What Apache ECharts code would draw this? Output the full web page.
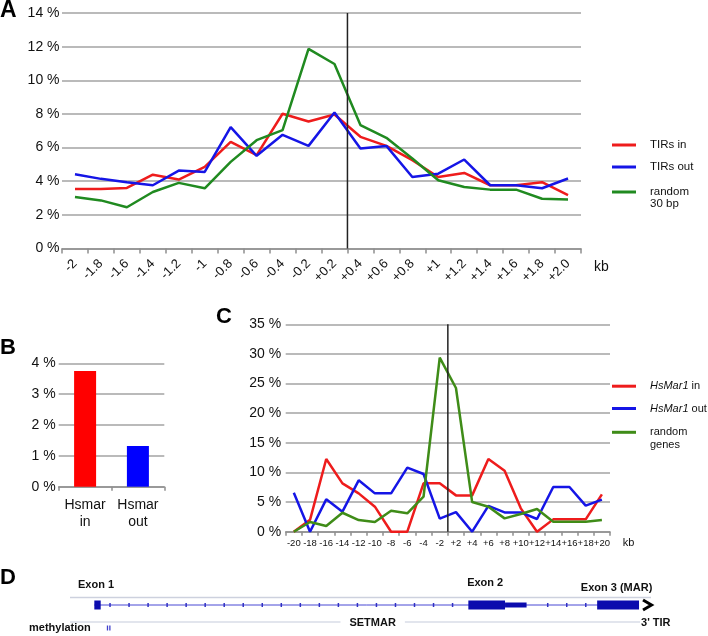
<!DOCTYPE html>
<html><head><meta charset="utf-8">
<script src="https://cdn.jsdelivr.net/npm/echarts@6/dist/echarts.min.js"></script>
<style>html,body{margin:0;padding:0;background:#fff}#c{width:708px;height:636px}</style>
</head><body><div id="c"></div>
<script>
// ---------- Panel A: distance to TIRs (kb) ----------
const catsA = ['-2','-1.8','-1.6','-1.4','-1.2','-1','-0.8','-0.6','-0.4','-0.2','+0.2','+0.4','+0.6','+0.8','+1','+1.2','+1.4','+1.6','+1.8','+2.0'];
const tirsIn   = [3.54,3.54,3.60,4.39,4.10,4.85,6.34,5.55,8.01,7.55,7.97,6.64,6.10,5.25,4.25,4.49,3.76,3.76,3.94,3.18];
const tirsOut  = [4.41,4.14,3.94,3.76,4.63,4.55,7.22,5.51,6.76,6.10,8.09,5.94,6.10,4.25,4.45,5.29,3.76,3.76,3.58,4.16];
const random30 = [3.06,2.86,2.45,3.36,3.90,3.58,5.15,6.44,7.04,11.87,10.97,7.34,6.58,5.35,4.06,3.66,3.50,3.50,2.96,2.92];
const tirLineA = 11;      // boundary position (in category widths from the left edge)
const yMaxA = 14;

// ---------- Panel B ----------
const catsB = ['Hsmar\nin','Hsmar\nout'];
const valsB = [3.75, 1.32];

// ---------- Panel C: distance to genes (kb) ----------
const catsC = ['-20','-18','-16','-14','-12','-10','-8','-6','-4','-2','+2','+4','+6','+8','+10','+12','+14','+16','+18','+20'];
const hsIn      = [0,2.0,12.27,8.16,6.47,4.22,0,0,8.16,8.16,6.13,6.13,12.27,10.3,3.94,0,2.08,2.08,2.08,6.3];
const hsOut     = [6.58,0,5.46,3.38,8.67,6.47,6.47,10.8,9.74,2.2,3.3,0,4.37,3.26,3.26,2.14,7.54,7.54,4.39,5.4];
const randGenes = [0,1.63,0.96,3.2,1.97,1.63,3.55,3.1,5.9,29.37,24.25,5.0,4.22,2.25,2.98,3.83,1.69,1.69,1.69,1.97];
const tssLineC = 10;
const yMaxC = 35;

// ---------- Panel D: SETMAR gene model (kb) ----------
const geneName = 'SETMAR';
const geneSpan = [0.61, 14.27];
const exonNames = ['Exon 1','Exon 2','Exon 3 (MAR)'];
const exonStarts = [0.61, 9.99, 13.22];
const exonThickEnds = [0.77, 10.91, 14.27];
const exonEnds = [0.77, 11.45, 14.27];
const methylSites = [0.94, 1.00];

// ---------- styles ----------
const FONT = '"Liberation Sans", Arial, Helvetica, sans-serif';
const RED = '#ee1c1c', BLUE = '#1515e6', GREEN_A = '#208a20', GREEN_C = '#3f8c18';
const barColorsB = ['#ff0000', '#0000ff'];
const GRID_LINE = '#a3a3a3', AXIS_LINE = '#8f8f8f';
const EXON = '#0c0cae', INTRON = '#4848d4';
const exonLabelDy = [-12, -14, -9];

const splitLine = {show:true, lineStyle:{color:GRID_LINE, width:1.5}};
const pct = v => v + ' %';

function catAxis(grid, data, label, extra) {
  return Object.assign({
    type:'category', gridIndex:grid, data, boundaryGap:true,
    axisLine:{show:true, lineStyle:{color:AXIS_LINE, width:1.5}},
    axisTick:{show:true, length:5, lineStyle:{color:AXIS_LINE, width:1.5}},
    axisLabel:Object.assign({interval:0, color:'#111', fontFamily:FONT}, label),
    splitLine:{show:false}
  }, extra || {});
}
function valAxis(grid, max, interval, labelSize, margin) {
  return {
    type:'value', gridIndex:grid, min:0, max, interval,
    axisLine:{show:false}, axisTick:{show:false}, splitLine,
    axisLabel:{formatter:pct, fontSize:labelSize, color:'#111', fontFamily:FONT, margin}
  };
}
function hiddenVal(grid, min, max) {
  return {type:'value', gridIndex:grid, min, max, show:false, splitLine:{show:false}};
}
function mkLegend(name, top, fmt, rich) {
  return {
    data:[name], left:612, top, orient:'vertical', padding:0,
    itemWidth:24, itemHeight:3, icon:'rect', selectedMode:false,
    formatter:fmt, textStyle:{fontFamily:FONT, color:'#111', rich}
  };
}
const richA = {
  t:{fontSize:11.5, lineHeight:14, padding:[0,0,0,9], fontFamily:FONT, color:'#111'},
  r:{fontSize:11.5, lineHeight:12, padding:[0,0,0,9], fontFamily:FONT, color:'#111'}
};
const richC = {
  i:{fontSize:11, lineHeight:14, padding:[0,0,0,9], fontStyle:'italic', fontFamily:FONT, color:'#111'},
  n:{fontSize:11, lineHeight:14, fontFamily:FONT, color:'#111'},
  r:{fontSize:11, lineHeight:13, padding:[0,0,0,9], fontFamily:FONT, color:'#111'}
};
const lineS = (name, data, color, xi, yi) => ({
  name, type:'line', data, xAxisIndex:xi, yAxisIndex:yi, symbol:'none', color,
  lineStyle:{color, width:2.5}, z:3, silent:true, animation:false
});
const vLine = (pos, ymax, xi, yi) => ({
  type:'line', data:[[pos,0],[pos,ymax]], xAxisIndex:xi, yAxisIndex:yi, symbol:'none',
  lineStyle:{color:'#222', width:1.5}, z:4, silent:true, animation:false
});

const chart = echarts.init(document.getElementById('c'), null, {renderer:'canvas'});
const boldFont = 'bold 11px ' + FONT;

chart.setOption({
  animation:false,
  backgroundColor:'#fff',
  grid:[
    {left:62, top:13, width:519, height:235.5, outerBoundsMode:'none'},
    {left:58.7, top:363.3, width:105.6, height:123.4, outerBoundsMode:'none'},
    {left:285.7, top:324.3, width:324.3, height:207.4, outerBoundsMode:'none'},
    {left:70, top:597, width:638, height:25, outerBoundsMode:'none'}
  ],
  xAxis:[
    catAxis(0, catsA, {rotate:45, fontSize:13, margin:13},
      {name:'kb', nameLocation:'end', nameGap:13,
       nameTextStyle:{fontSize:14, color:'#111', fontFamily:FONT, verticalAlign:'top', padding:[12,0,0,0]}}),
    hiddenVal(0, 0, catsA.length),
    catAxis(1, catsB, {fontSize:14, lineHeight:17, margin:10}, {axisTick:{show:true, length:4, lineStyle:{color:AXIS_LINE, width:1.5}}}),
    catAxis(2, catsC, {fontSize:9.5, margin:6.5},
      {axisTick:{show:true, length:4, lineStyle:{color:AXIS_LINE, width:1.5}},
       name:'kb', nameLocation:'end', nameGap:12.7,
       nameTextStyle:{fontSize:11, color:'#111', fontFamily:FONT, verticalAlign:'top', padding:[6,0,0,0]}}),
    hiddenVal(2, 0, catsC.length),
    hiddenVal(3, 0, 16)
  ],
  yAxis:[
    valAxis(0, yMaxA, 2, 14, 2.5),
    valAxis(1, 4, 1, 14, 3),
    valAxis(2, yMaxC, 5, 14, 4.5),
    hiddenVal(3, 0, 1)
  ],
  legend:[
    mkLegend('TIRs in', 139, '{t|TIRs in}', richA),
    mkLegend('TIRs out', 161, '{t|TIRs out}', richA),
    mkLegend('random 30 bp', 174, '{r| }\n{r|random}\n{r|30 bp}', richA),
    mkLegend('HsMar1 in', 380.7, '{i|HsMar1}{n| in}', richC),
    mkLegend('HsMar1 out', 403, '{i|HsMar1}{n| out}', richC),
    mkLegend('random genes', 413.8, '{r| }\n{r|random}\n{r|genes}', richC)
  ],
  graphic:[
    {type:'text', x:0, y:-1, style:{text:'A', font:'bold 23px ' + FONT, fill:'#000', verticalAlign:'top'}},
    {type:'text', x:0, y:337, style:{text:'B', font:'bold 22px ' + FONT, fill:'#000', verticalAlign:'top'}},
    {type:'text', x:216, y:305.5, style:{text:'C', font:'bold 22px ' + FONT, fill:'#000', verticalAlign:'top'}},
    {type:'text', x:0, y:566.6, style:{text:'D', font:'bold 22px ' + FONT, fill:'#000', verticalAlign:'top'}},
    {type:'text', x:29, y:628, style:{text:'methylation', font:boldFont, fill:'#111', verticalAlign:'middle'}}
  ],
  series:[
    lineS('TIRs in', tirsIn, RED, 0, 0),
    lineS('TIRs out', tirsOut, BLUE, 0, 0),
    lineS('random 30 bp', random30, GREEN_A, 0, 0),
    vLine(tirLineA, yMaxA, 1, 0),
    {
      type:'bar', xAxisIndex:2, yAxisIndex:1, barWidth:22, silent:true, animation:false,
      data: valsB.map((v,i) => ({value:v, itemStyle:{color:barColorsB[i]}}))
    },
    lineS('HsMar1 in', hsIn, RED, 3, 2),
    lineS('HsMar1 out', hsOut, BLUE, 3, 2),
    lineS('random genes', randGenes, GREEN_C, 3, 2),
    vLine(tssLineC, yMaxC, 4, 2),
    // gene backbone, direction ticks, strand chevron, labels
    {
      type:'custom', xAxisIndex:5, yAxisIndex:3, silent:true, animation:false, clip:false,
      data:[[geneSpan[0], geneSpan[1]]],
      renderItem:(params, api) => {
        const cs = params.coordSys;
        const x0 = api.coord([api.value(0), 0])[0];
        const x1 = api.coord([api.value(1), 0])[0];
        const yTop = cs.y, yBot = cs.y + cs.height, yc = cs.y + 8;
        const bandEnd = x1 + 12;
        const kids = [];
        kids.push({type:'line', shape:{x1:cs.x, y1:yTop + 0.5, x2:bandEnd, y2:yTop + 0.5}, style:{stroke:'#cdd1de', lineWidth:1.5}});
        kids.push({type:'line', shape:{x1:cs.x, y1:yBot, x2:bandEnd, y2:yBot}, style:{stroke:'#d9dce7', lineWidth:1.5}});
        kids.push({type:'line', shape:{x1:x0, y1:yc, x2:x1, y2:yc}, style:{stroke:INTRON, lineWidth:1}});
        const exPx = exonStarts.map((s,i) => [api.coord([s,0])[0], api.coord([exonEnds[i],0])[0]]);
        for (let px = x0 + 15.7; px < x1; px += 19.03) {
          if (exPx.some(([a,b]) => px > a - 3 && px < b + 3)) continue;
          kids.push({type:'rect', shape:{x:px - 0.75, y:yc - 2, width:1.5, height:4}, style:{fill:'#3030c4'}});
        }
        kids.push({type:'polyline', shape:{points:[[x1 + 4, yc - 5], [x1 + 12.5, yc], [x1 + 4, yc + 5]]},
                   style:{stroke:'#000', lineWidth:3, fill:null}});
        kids.push({type:'text', x:(x0 + x1) / 2 + 6, y:yBot + 1, style:{text:geneName, font:boldFont, fill:'#111',
                   align:'center', verticalAlign:'middle', backgroundColor:'#fff', padding:[4,9]}});
        kids.push({type:'text', x:x1 + 1, y:yBot + 1, style:{text:"3' TIR", font:boldFont, fill:'#111',
                   align:'left', verticalAlign:'middle', backgroundColor:'#fff', padding:[4,4,4,1]}});
        return {type:'group', children:kids};
      }
    },
    // exons
    {
      type:'custom', xAxisIndex:5, yAxisIndex:3, silent:true, animation:false, clip:false, z:3,
      data: exonStarts.map((s,i) => ({name:exonNames[i], value:[s, exonThickEnds[i], exonEnds[i]]})),
      renderItem:(params, api) => {
        const cs = params.coordSys, yc = cs.y + 8, i = params.dataIndex;
        const xs = api.coord([api.value(0), 0])[0];
        const xt = api.coord([api.value(1), 0])[0];
        const xe = api.coord([api.value(2), 0])[0];
        const kids = [];
        if (xe > xt + 0.5) kids.push({type:'rect', shape:{x:xt, y:yc - 2.5, width:xe - xt, height:5}, style:{fill:EXON}});
        kids.push({type:'rect', shape:{x:xs, y:yc - 4.5, width:Math.max(xt - xs, 1), height:9}, style:{fill:EXON}});
        kids.push({type:'text', x:(xs + xt) / 2 - 1.5, y:cs.y + exonLabelDy[i],
                   style:{text:exonNames[i], font:boldFont, fill:'#111', align:'center', verticalAlign:'middle'}});
        return {type:'group', children:kids};
      }
    },
    // methylation marks
    {
      type:'custom', xAxisIndex:5, yAxisIndex:3, silent:true, animation:false, clip:false,
      data: methylSites.map(v => [v]),
      renderItem:(params, api) => {
        const cs = params.coordSys;
        const x = api.coord([api.value(0), 0])[0];
        return {type:'rect', shape:{x:x - 0.65, y:cs.y + cs.height + 3.5, width:1.3, height:5}, style:{fill:'#4040cc'}};
      }
    }
  ]
});
</script>
</body></html>
